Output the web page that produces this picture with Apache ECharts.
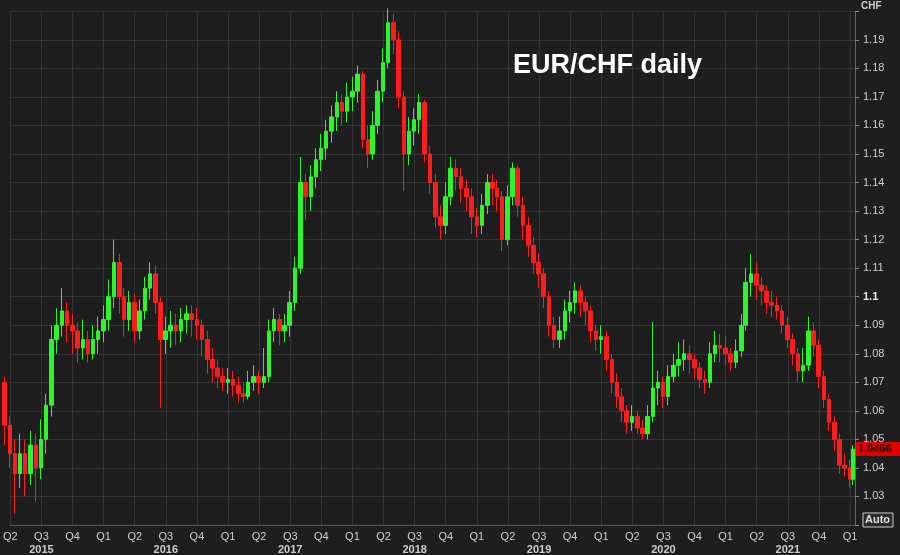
<!DOCTYPE html>
<html><head><meta charset="utf-8">
<script src="https://cdn.jsdelivr.net/npm/echarts@6/dist/echarts.min.js"></script>
<style>html,body{margin:0;padding:0;background:#1e1e1e}#c{width:900px;height:555px}</style>
</head><body><div id="c"></div>
<script>
const dates = [
"2015-03-16","2015-04-01","2015-04-16","2015-05-01","2015-05-16","2015-06-01","2015-06-16","2015-07-01","2015-07-16","2015-08-01","2015-08-16","2015-09-01","2015-09-16","2015-10-01","2015-10-16","2015-11-01","2015-11-16","2015-12-01","2015-12-16",
"2016-01-01","2016-01-16","2016-02-01","2016-02-16","2016-03-01","2016-03-16","2016-04-01","2016-04-16","2016-05-01","2016-05-16","2016-06-01","2016-06-16","2016-07-01","2016-07-16","2016-08-01","2016-08-16","2016-09-01","2016-09-16","2016-10-01","2016-10-16","2016-11-01","2016-11-16","2016-12-01","2016-12-16",
"2017-01-01","2017-01-16","2017-02-01","2017-02-16","2017-03-01","2017-03-16","2017-04-01","2017-04-16","2017-05-01","2017-05-16","2017-06-01","2017-06-16","2017-07-01","2017-07-16","2017-08-01","2017-08-16","2017-09-01","2017-09-16","2017-10-01","2017-10-16","2017-11-01","2017-11-16","2017-12-01","2017-12-16",
"2018-01-01","2018-01-16","2018-02-01","2018-02-16","2018-03-01","2018-03-16","2018-04-01","2018-04-16","2018-05-01","2018-05-16","2018-06-01","2018-06-16","2018-07-01","2018-07-16","2018-08-01","2018-08-16","2018-09-01","2018-09-16","2018-10-01","2018-10-16","2018-11-01","2018-11-16","2018-12-01","2018-12-16",
"2019-01-01","2019-01-16","2019-02-01","2019-02-16","2019-03-01","2019-03-16","2019-04-01","2019-04-16","2019-05-01","2019-05-16","2019-06-01","2019-06-16","2019-07-01","2019-07-16","2019-08-01","2019-08-16","2019-09-01","2019-09-16","2019-10-01","2019-10-16","2019-11-01","2019-11-16","2019-12-01","2019-12-16",
"2020-01-01","2020-01-16","2020-02-01","2020-02-16","2020-03-01","2020-03-16","2020-04-01","2020-04-16","2020-05-01","2020-05-16","2020-06-01","2020-06-16","2020-07-01","2020-07-16","2020-08-01","2020-08-16","2020-09-01","2020-09-16","2020-10-01","2020-10-16","2020-11-01","2020-11-16","2020-12-01","2020-12-16",
"2021-01-01","2021-01-16","2021-02-01","2021-02-16","2021-03-01","2021-03-16","2021-04-01","2021-04-16","2021-05-01","2021-05-16","2021-06-01","2021-06-16","2021-07-01","2021-07-16","2021-08-01","2021-08-16","2021-09-01","2021-09-16","2021-10-01","2021-10-16","2021-11-01","2021-11-16","2021-12-01","2021-12-16",
"2022-01-01","2022-01-10"];
// [open, close, low, high]
const ohlc = [
[1.070,1.055,1.048,1.072],[1.055,1.045,1.040,1.058],[1.045,1.038,1.024,1.050],[1.038,1.045,1.033,1.052],[1.045,1.038,1.030,1.050],[1.038,1.048,1.034,1.053],[1.048,1.040,1.028,1.052],[1.040,1.050,1.036,1.057],[1.050,1.062,1.045,1.066],[1.062,1.085,1.058,1.090],[1.085,1.090,1.080,1.096],[1.090,1.095,1.086,1.103],[1.095,1.090,1.084,1.098],[1.090,1.088,1.080,1.094],[1.088,1.082,1.077,1.091],[1.082,1.085,1.078,1.092],[1.085,1.080,1.077,1.088],[1.080,1.085,1.078,1.090],[1.085,1.088,1.080,1.093],
[1.088,1.092,1.084,1.097],[1.092,1.100,1.088,1.106],[1.100,1.112,1.096,1.120],[1.112,1.100,1.094,1.115],[1.100,1.092,1.086,1.103],[1.092,1.098,1.088,1.102],[1.098,1.088,1.084,1.101],[1.088,1.095,1.085,1.099],[1.095,1.103,1.092,1.107],[1.103,1.108,1.099,1.112],[1.108,1.098,1.094,1.111],[1.098,1.085,1.061,1.100],[1.085,1.088,1.080,1.093],[1.088,1.090,1.082,1.095],[1.090,1.088,1.083,1.094],[1.088,1.092,1.084,1.096],[1.092,1.094,1.087,1.097],[1.094,1.092,1.086,1.097],[1.092,1.090,1.085,1.096],[1.090,1.085,1.079,1.092],[1.085,1.078,1.073,1.088],[1.078,1.075,1.070,1.082],[1.075,1.072,1.068,1.078],[1.072,1.070,1.067,1.075],
[1.070,1.071,1.066,1.075],[1.071,1.069,1.065,1.074],[1.069,1.066,1.063,1.072],[1.066,1.065,1.063,1.070],[1.065,1.070,1.064,1.074],[1.070,1.072,1.067,1.076],[1.072,1.070,1.066,1.074],[1.070,1.072,1.068,1.082],[1.072,1.088,1.070,1.092],[1.088,1.092,1.084,1.096],[1.092,1.088,1.083,1.094],[1.088,1.090,1.084,1.094],[1.090,1.098,1.086,1.102],[1.098,1.110,1.095,1.114],[1.110,1.140,1.108,1.149],[1.140,1.135,1.127,1.143],[1.135,1.142,1.130,1.146],[1.142,1.148,1.138,1.152],[1.148,1.152,1.144,1.157],[1.152,1.158,1.148,1.162],[1.158,1.163,1.154,1.167],[1.163,1.168,1.158,1.172],[1.168,1.165,1.160,1.171],[1.165,1.170,1.161,1.175],
[1.170,1.172,1.165,1.177],[1.172,1.178,1.168,1.181],[1.178,1.155,1.152,1.179],[1.155,1.150,1.145,1.160],[1.150,1.160,1.148,1.165],[1.160,1.172,1.157,1.176],[1.172,1.182,1.168,1.187],[1.182,1.196,1.180,1.201],[1.196,1.190,1.185,1.199],[1.190,1.170,1.166,1.193],[1.170,1.150,1.137,1.172],[1.150,1.158,1.146,1.163],[1.158,1.162,1.153,1.166],[1.162,1.168,1.157,1.171],[1.168,1.150,1.147,1.169],[1.150,1.140,1.136,1.153],[1.140,1.128,1.124,1.143],[1.128,1.125,1.120,1.132],[1.125,1.135,1.122,1.140],[1.135,1.145,1.132,1.149],[1.145,1.142,1.137,1.148],[1.142,1.138,1.133,1.145],[1.138,1.135,1.130,1.141],[1.135,1.128,1.122,1.138],
[1.128,1.125,1.121,1.131],[1.125,1.132,1.122,1.136],[1.132,1.140,1.129,1.143],[1.140,1.138,1.132,1.143],[1.138,1.135,1.130,1.141],[1.135,1.120,1.116,1.137],[1.120,1.135,1.118,1.139],[1.135,1.145,1.132,1.147],[1.145,1.132,1.128,1.146],[1.132,1.125,1.120,1.135],[1.125,1.118,1.114,1.128],[1.118,1.112,1.108,1.121],[1.112,1.108,1.103,1.115],[1.108,1.100,1.096,1.110],[1.100,1.090,1.086,1.102],[1.090,1.085,1.082,1.093],[1.085,1.088,1.082,1.093],[1.088,1.095,1.085,1.099],[1.095,1.098,1.091,1.102],[1.098,1.102,1.094,1.105],[1.102,1.098,1.093,1.104],[1.098,1.095,1.090,1.100],[1.095,1.088,1.084,1.097],[1.088,1.085,1.081,1.090],
[1.085,1.086,1.080,1.090],[1.086,1.078,1.074,1.088],[1.078,1.070,1.066,1.080],[1.070,1.065,1.061,1.073],[1.065,1.060,1.056,1.068],[1.060,1.056,1.052,1.062],[1.056,1.058,1.053,1.062],[1.058,1.054,1.052,1.060],[1.054,1.052,1.050,1.057],[1.052,1.058,1.050,1.062],[1.058,1.068,1.056,1.091],[1.068,1.070,1.062,1.074],[1.070,1.065,1.061,1.072],[1.065,1.072,1.062,1.076],[1.072,1.076,1.070,1.080],[1.076,1.078,1.072,1.084],[1.078,1.080,1.074,1.085],[1.080,1.078,1.073,1.083],[1.078,1.075,1.071,1.080],[1.075,1.071,1.068,1.077],[1.071,1.070,1.066,1.074],[1.070,1.080,1.068,1.084],[1.080,1.083,1.077,1.088],[1.083,1.082,1.077,1.087],
[1.082,1.080,1.076,1.086],[1.080,1.077,1.074,1.082],[1.077,1.081,1.075,1.085],[1.081,1.090,1.079,1.094],[1.090,1.105,1.088,1.110],[1.105,1.108,1.100,1.115],[1.108,1.104,1.099,1.112],[1.104,1.102,1.097,1.107],[1.102,1.098,1.094,1.104],[1.098,1.097,1.093,1.102],[1.097,1.095,1.092,1.100],[1.095,1.090,1.087,1.097],[1.090,1.085,1.082,1.093],[1.085,1.080,1.076,1.087],[1.080,1.074,1.070,1.082],[1.074,1.076,1.070,1.082],[1.076,1.088,1.074,1.093],[1.088,1.083,1.079,1.091],[1.083,1.072,1.068,1.085],[1.072,1.064,1.061,1.074],[1.064,1.056,1.053,1.066],[1.056,1.050,1.046,1.058],[1.050,1.041,1.038,1.052],[1.041,1.040,1.037,1.045],
[1.040,1.036,1.033,1.043],[1.036,1.0466,1.034,1.048]];
const yTicks = [1.03,1.04,1.05,1.06,1.07,1.08,1.09,1.10,1.11,1.12,1.13,1.14,1.15,1.16,1.17,1.18,1.19];
const lastPrice = 1.0466;
const title = "EUR/CHF daily";

function toYear(s){const d=new Date(s+"T00:00:00Z");const y=d.getUTCFullYear();const a=Date.UTC(y,0,1),b=Date.UTC(y+1,0,1);return y+(d-a)/(b-a);}
const data = dates.map((d,i)=>[toYear(d)].concat(ohlc[i]));
const chart = echarts.init(document.getElementById('c'));
const labelColor='#cfcfcf';
const font='Arial, "Liberation Sans", sans-serif';
chart.setOption({
  backgroundColor:'#1e1e1e',
  animation:false,
  grid:{left:5,right:45,top:11.3,bottom:29.6,containLabel:false},
  xAxis:[{
    type:'value',min:2015.25,max:2022.04,interval:0.25,position:'bottom',
    axisLine:{show:true,lineStyle:{color:'#555'}},axisTick:{show:false},
    splitLine:{show:true,lineStyle:{color:'#333',width:1}},
    axisLabel:{color:labelColor,fontSize:11,fontFamily:font,margin:6,showMaxLabel:false,showMinLabel:true,
      formatter:v=>'Q'+(Math.round((v-Math.floor(v))*4)+1)}
  },{
    type:'value',min:2015.25,max:2022.04,interval:0.25,position:'bottom',offset:13,
    axisLine:{show:false},axisTick:{show:false},splitLine:{show:false},
    axisLabel:{color:labelColor,fontSize:11,fontWeight:'bold',fontFamily:font,margin:6,showMaxLabel:false,
      formatter:v=>Math.abs(v-Math.floor(v)-0.5)<0.01?String(Math.floor(v)):''}
  }],
  yAxis:{type:'value',position:'right',min:1.02,max:1.20,interval:0.01,
    axisLine:{show:true,lineStyle:{color:'#666'}},
    axisTick:{show:true,length:4,lineStyle:{color:'#888'}},
    splitLine:{show:true,lineStyle:{color:'#333',width:1}},
    axisLabel:{color:labelColor,fontSize:11,fontFamily:font,margin:8,
      formatter:v=>{const r=Math.round(v*100)/100;if(!yTicks.some(t=>Math.abs(t-r)<1e-6))return '';return Math.abs(r-1.1)<1e-6?'{b|1.1}':String(r);},
      rich:{b:{fontWeight:'bold',color:'#e8e8e8',fontSize:11}}}
  },
  series:[{
    type:'candlestick',xAxisIndex:0,data:data,barWidth:4,clip:false,
    itemStyle:{color:'#2cf52c',color0:'#ff1c1c',borderColor:'#2cf52c',borderColor0:'#ff1c1c',borderWidth:1}
  }]
});
const py = chart.convertToPixel({yAxisIndex:0},lastPrice);
chart.setOption({graphic:[
  {type:'text',left:513,top:52,style:{text:title,fill:'#ffffff',font:'bold 27px '+font,shadowBlur:4,shadowColor:'rgba(0,0,0,0.9)',shadowOffsetX:2,shadowOffsetY:2}},
  {type:'text',left:861,top:1,style:{text:'CHF',fill:labelColor,font:'bold 10px '+font}},
  {type:'rect',shape:{x:856,y:py-7,width:44,height:14},style:{fill:'#e00000'}},
  {type:'text',x:858,y:py-6,style:{text:lastPrice.toFixed(4),fill:'#1a0000',font:'bold 11px '+font}},
  {type:'rect',shape:{x:863,y:513,width:30,height:14},style:{fill:'#2a2a2a',stroke:'#cccccc',lineWidth:1}},
  {type:'text',x:865,y:514,style:{text:'Auto',fill:'#e0e0e0',font:'bold 11px '+font}}
]});
</script></body></html>
